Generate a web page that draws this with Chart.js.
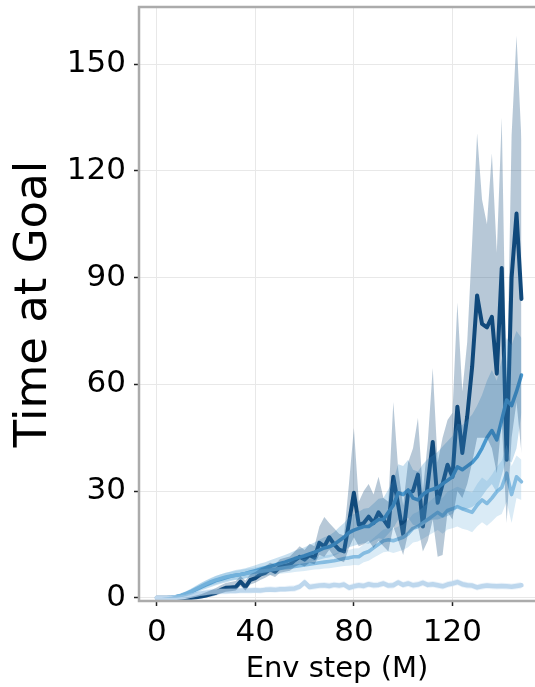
<!DOCTYPE html>
<html>
<head>
<meta charset="utf-8">
<script src="https://cdn.jsdelivr.net/npm/chart.js@4/dist/chart.umd.min.js"></script>
<style>
  html, body { margin: 0; padding: 0; background: #fff; overflow: hidden; }
  canvas { display: block; }
</style>
</head>
<body>
<canvas id="grafico" width="535" height="687"></canvas>
<script>
// Env step (M)
const passos = [0,2,4,6,8,10,12,14,16,18,20,22,24,26,28,30,32,34,36,38,40,42,44,46,48,50,52,54,56,58,60,62,64,66,68,70,72,74,76,78,80,82,84,86,88,90,92,94,96,98,100,102,104,106,108,110,112,114,116,118,120,122,124,126,128,130,132,134,136,138,140,142,144,146,148];

// serie escura
const escuraMedia = [0,0,0,0,0,0,0,0,0.1,0.3,0.6,1.0,1.4,2.2,2.8,2.9,3.0,4.5,3.0,5.0,5.5,6.5,7.0,8.0,7.3,8.7,9.0,9.3,10.5,11.5,10.7,12.0,11.2,15.4,14.4,17.0,15.0,13.5,13.0,21.0,29.5,20.5,21.0,22.8,21.0,24.0,22.0,20.0,34.0,26.0,17.7,29.5,30.0,34.6,20.0,32.0,43.8,26.7,32.0,37.4,34.0,53.7,40.7,51.0,65.0,85.0,77.0,76.0,79.0,63.0,92.7,38.8,90.0,108.0,84.0];
const escuraSup = [0,0,0,0,0,0,0.1,0.3,0.6,1.0,1.5,2.1,2.7,3.5,4.1,4.4,4.7,6.0,4.8,6.6,7.2,8.2,8.8,9.8,9.3,10.8,11.2,11.6,13.0,14.5,13.4,15.2,14.5,20.0,22.7,21.0,19.5,18.0,17.5,32.0,47.7,27.0,30.0,32.0,29.0,34.0,28.0,27.0,55.0,36.0,26.0,38.0,42.0,50.5,30.0,44.0,64.6,38.0,45.0,50.0,52.0,83.0,58.0,72.0,100.0,130.6,112.0,105.0,125.0,97.0,135.0,55.0,130.0,158.0,128.6];
const escuraInf = [0,0,0,0,0,0,0,0,0,0,0.1,0.3,0.6,1.2,1.7,1.8,2.0,3.2,2.0,3.7,4.2,5.0,5.6,6.4,5.8,7.0,7.3,7.6,8.6,9.4,8.8,9.8,9.4,12.0,11.5,13.5,11.5,10.5,10.0,14.0,17.0,14.5,15.0,16.0,14.0,16.0,14.5,13.0,20.0,16.0,12.0,18.0,19.0,20.0,13.0,16.0,22.0,11.5,12.0,24.0,22.0,30.0,28.0,32.0,38.0,45.0,45.0,45.0,42.0,35.0,50.0,21.0,45.0,55.0,40.7];

// serie media
const mediaMedia = [0,0,0,0.1,0.3,0.6,1.0,1.6,2.3,3.0,3.6,4.2,4.8,5.2,5.6,6.0,6.3,6.5,6.8,7.2,7.6,8.0,8.4,8.8,9.2,9.6,10.0,10.5,11.0,11.4,11.8,12.3,12.8,13.4,14.0,14.3,15.0,16.0,17.0,18.3,19.0,19.5,20.0,20.0,21.0,22.0,22.0,24.0,26.0,29.5,29.0,30.3,28.0,27.5,29.0,30.0,30.5,31.0,32.0,33.0,34.0,36.8,36.0,37.0,38.0,39.6,42.0,45.0,47.0,44.4,50.0,55.6,54.0,58.0,62.6];
const mediaSup = [0,0,0.1,0.3,0.7,1.2,1.8,2.5,3.3,4.1,4.8,5.5,6.1,6.6,7.0,7.4,7.8,8.0,8.3,8.7,9.1,9.6,10.0,10.5,11.0,11.5,12.0,12.6,13.2,13.7,14.2,14.9,15.5,16.3,17.0,17.5,18.5,19.8,21.0,22.6,23.5,24.2,25.0,25.2,26.5,27.8,28.0,30.5,33.0,37.5,37.0,38.8,36.0,35.5,37.5,39.0,40.0,41.0,42.5,44.0,45.5,49.0,48.5,50.0,51.5,54.0,57.0,61.0,64.0,61.0,67.0,73.0,71.0,75.0,73.0];
const mediaInf = [0,0,0,0,0,0.1,0.4,0.8,1.4,2.0,2.5,3.0,3.5,3.9,4.3,4.7,5.0,5.1,5.4,5.8,6.2,6.5,6.9,7.2,7.5,7.8,8.1,8.5,8.9,9.2,9.5,9.9,10.3,10.7,11.1,11.3,11.8,12.5,13.2,14.2,14.6,15.0,15.3,15.2,16.0,16.7,16.5,18.0,19.5,22.0,21.5,22.5,20.5,20.0,21.0,21.5,22.0,22.0,22.5,23.0,23.5,25.5,24.5,25.0,25.5,26.5,28.5,30.5,32.0,29.5,34.5,39.0,38.0,42.0,52.0];

// serie clara
const claraMedia = [0,0,0,0.1,0.3,0.7,1.2,1.8,2.5,3.2,3.9,4.5,5.0,5.4,5.8,6.1,6.3,6.5,6.8,7.0,7.2,7.4,7.6,7.8,8.0,8.2,8.4,8.6,8.8,9.0,9.2,9.4,9.6,9.8,10.0,10.2,10.4,10.7,11.0,11.2,11.5,11.5,12.5,13.0,14.0,15.0,16.0,16.3,16.0,16.5,17.0,18.0,19.5,20.0,21.0,22.0,23.0,24.0,23.0,24.5,25.0,25.6,25.0,24.5,24.0,26.0,27.5,26.5,28.0,29.8,31.0,35.0,29.0,34.0,32.6];
const claraSup = [0,0,0.1,0.3,0.7,1.3,1.9,2.6,3.4,4.2,4.9,5.6,6.2,6.6,7.0,7.3,7.5,7.8,8.1,8.3,8.5,8.8,9.0,9.2,9.5,9.7,9.9,10.2,10.4,10.6,10.9,11.1,11.3,11.6,11.8,12.1,12.3,12.7,13.1,13.4,13.8,13.9,15.0,15.6,16.8,18.0,19.2,19.6,19.4,20.0,20.6,21.8,23.5,24.2,25.4,26.6,27.8,29.0,28.0,29.8,30.5,31.2,30.6,30.0,29.6,32.0,33.8,32.8,34.6,36.8,38.5,43.0,37.0,40.0,38.8];
const claraInf = [0,0,0,0,0,0.2,0.6,1.1,1.7,2.3,2.9,3.4,3.8,4.2,4.6,4.9,5.1,5.2,5.5,5.7,5.9,6.0,6.2,6.4,6.5,6.7,6.9,7.0,7.2,7.4,7.5,7.7,7.9,8.0,8.2,8.3,8.5,8.7,8.9,9.0,9.2,9.1,10.0,10.4,11.2,12.0,12.8,13.0,12.6,13.0,13.4,14.2,15.5,15.8,16.6,17.4,18.2,19.0,18.0,19.2,19.5,20.0,19.4,19.0,18.4,20.0,21.2,20.2,21.4,22.8,23.5,27.0,21.0,28.0,27.5];

// serie quase plana
const planaMedia = [0,0,0,0,0,0.1,0.3,0.6,0.9,1.2,1.4,1.6,1.7,1.8,1.8,1.9,1.9,2.0,2.0,2.0,2.1,2.0,2.2,2.3,2.2,2.4,2.4,2.5,2.6,3.1,4.3,3.0,3.2,3.4,3.5,3.3,3.6,3.4,3.7,2.8,3.2,3.5,3.3,3.8,3.5,3.6,4.0,3.4,3.5,4.3,3.6,4.0,3.5,3.7,4.2,3.6,3.8,3.5,3.2,3.7,4.0,4.4,3.8,3.5,3.4,2.9,3.2,3.4,3.3,3.2,3.3,3.2,3.1,3.3,3.5];
const planaSup = [0,0,0,0,0.1,0.4,0.8,1.3,1.7,2.0,2.3,2.5,2.6,2.7,2.7,2.8,2.8,2.9,2.9,2.9,3.0,2.9,3.1,3.2,3.1,3.3,3.3,3.4,3.5,4.0,5.3,3.9,4.1,4.3,4.4,4.2,4.5,4.3,4.6,3.7,4.1,4.4,4.2,4.7,4.4,4.5,4.9,4.3,4.4,5.2,4.5,4.9,4.4,4.6,5.1,4.5,4.7,4.4,4.1,4.6,4.9,5.3,4.7,4.4,4.3,3.8,4.1,4.3,4.2,4.1,4.2,4.1,4.0,4.2,4.4];
const planaInf = [0,0,0,0,0,0,0,0,0.2,0.5,0.6,0.8,0.9,1.0,1.0,1.1,1.1,1.2,1.2,1.2,1.3,1.2,1.4,1.5,1.4,1.6,1.6,1.6,1.7,2.2,3.3,2.1,2.3,2.5,2.6,2.4,2.7,2.5,2.8,1.9,2.3,2.6,2.4,2.9,2.6,2.7,3.1,2.5,2.6,3.4,2.7,3.1,2.6,2.8,3.3,2.7,2.9,2.6,2.3,2.8,3.1,3.5,2.9,2.6,2.5,2.0,2.3,2.5,2.4,2.3,2.4,2.3,2.2,2.4,2.6];

const ticksX = [0, 40, 80, 120];
const ticksY = [0, 30, 60, 90, 120, 150];

const fonte = "'DejaVu Sans', sans-serif";

function pontos(valores) {
    return passos.map((p, i) => ({ x: p, y: valores[i] }));
}

// faixa = par de datasets, o de cima preenche ate o de baixo
function faixa(sup, inf, cor) {
    return [
        { data: pontos(sup), borderWidth: 0, pointRadius: 0, fill: "+1", backgroundColor: cor, tension: 0 },
        { data: pontos(inf), borderWidth: 0, pointRadius: 0, fill: false, tension: 0 }
    ];
}

function linha(valores, cor, largura) {
    return {
        data: pontos(valores),
        borderColor: cor,
        borderWidth: largura,
        pointRadius: 0,
        fill: false,
        tension: 0,
        borderJoinStyle: "round",
        borderCapStyle: "round"
    };
}

// moldura (spines esquerda, topo, baixo)
const moldura = {
    id: "moldura",
    afterDatasetsDraw(chart) {
        const { ctx, chartArea: a } = chart;
        ctx.save();
        ctx.strokeStyle = "#ababab";
        ctx.lineWidth = 2.5;
        ctx.beginPath();
        ctx.moveTo(a.right + 5, a.top);
        ctx.lineTo(a.left, a.top);
        ctx.lineTo(a.left, a.bottom);
        ctx.lineTo(a.right + 5, a.bottom);
        ctx.stroke();
        ctx.restore();
    }
};

const ctx = document.getElementById("grafico").getContext("2d");
new Chart(ctx, {
    type: "line",
    data: {
        datasets: [
            ...faixa(escuraSup, escuraInf, "rgba(17, 74, 124, 0.3)"),
            ...faixa(mediaSup, mediaInf, "rgba(74, 152, 206, 0.3)"),
            ...faixa(claraSup, claraInf, "rgba(134, 188, 225, 0.3)"),
            ...faixa(planaSup, planaInf, "rgba(190, 215, 237, 0.3)"),
            linha(planaMedia, "#bed7ed", 4.5),
            linha(claraMedia, "#86bce1", 3.6),
            linha(mediaMedia, "#4a98ce", 3.6),
            linha(escuraMedia, "#114a7c", 4)
        ]
    },
    options: {
        responsive: false,
        animation: false,
        devicePixelRatio: 1,
        layout: { padding: { top: 7, left: 0, right: 0, bottom: 0 } },
        plugins: {
            legend: { display: false },
            tooltip: { enabled: false }
        },
        scales: {
            x: {
                type: "linear",
                min: -7.2,
                max: 153.5,
                afterFit: s => { s.height = 86; s.paddingLeft = 0; s.paddingRight = 0; },
                afterBuildTicks: s => { s.ticks = ticksX.map(v => ({ value: v })); },
                grid: { color: "#e8e8e8", lineWidth: 1, tickColor: "#222", tickLength: 5, tickWidth: 1.5 },
                border: { display: false },
                ticks: { color: "#000", padding: 8, maxRotation: 0, font: { family: fonte, size: 31 } },
                title: { display: true, text: "Env step (M)", color: "#000", padding: { top: 0, bottom: 0 }, font: { family: fonte, size: 29 } }
            },
            y: {
                min: -0.93,
                max: 166.1,
                afterFit: s => { s.width = 139; s.paddingTop = 0; s.paddingBottom = 0; },
                afterBuildTicks: s => { s.ticks = ticksY.map(v => ({ value: v })); },
                grid: { color: "#e8e8e8", lineWidth: 1, tickColor: "#222", tickLength: 5, tickWidth: 1.5 },
                border: { display: false },
                ticks: { color: "#000", padding: 8, font: { family: fonte, size: 31 } },
                title: { display: true, text: "Time at Goal", color: "#000", padding: { top: 7, bottom: 0 }, font: { family: fonte, size: 45 } }
            }
        }
    },
    plugins: [moldura]
});
</script>
</body>
</html>
